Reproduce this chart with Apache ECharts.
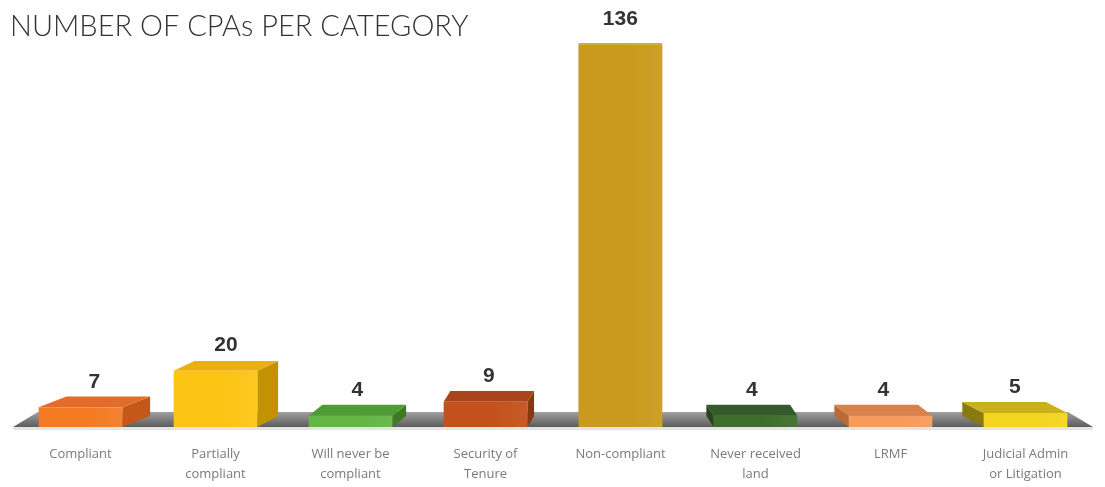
<!DOCTYPE html>
<html style="height: 100%">
<head>
    <meta charset="utf-8">
    <title>Number of CPAs per category</title>
    <script src="https://cdn.jsdelivr.net/npm/echarts@6/dist/echarts.min.js"></script>
</head>
<body style="margin: 0; height: 100%; background: #fff">
    <div id="main" style="width: 1105px; height: 487px"></div>
    <script>
        const categories = ['Compliant', 'Partially\ncompliant', 'Will never be\ncompliant', 'Security of\nTenure',
            'Non-compliant', 'Never received\nland', 'LRMF', 'Judicial Admin\nor Litigation'];
        const counts = [7, 20, 4, 9, 136, 4, 4, 5];
        // front, top, side
        const frontColors = ['#f47b22', '#fcc514', '#63b545', '#c4511b', '#c99a1d', '#3e6d2a', '#f59b5c', '#f3d51e'];
        const topColors = ['#e26c2c', '#e9b20a', '#4f9b36', '#a9451a', '#d6aa3c', '#34592a', '#d9814a', '#c9b11a'];
        const sideColors = ['#c45818', '#c39200', '#3d7a28', '#8b3612', '#a87c10', '#26441a', '#b86a38', '#8a7810'];

        const chart = echarts.init(document.getElementById('main'));

        // perspective helper: back face offset toward the middle / eye level of the chart
        function depthOffset(cx, yt) {
            return [(615 - cx) * 0.052, -Math.max(2, (yt - 30) / 35)];
        }

        function renderFloor(params, api) {
            const cs = params.coordSys;
            const yb = api.coord([0, 0])[1];
            return {
                type: 'group',
                children: [{
                    type: 'polygon',
                    shape: { points: [[cs.x + 25, yb - 15], [cs.x + cs.width - 25, yb - 15], [cs.x + cs.width, yb], [cs.x, yb]] },
                    style: {
                        fill: new echarts.graphic.LinearGradient(0, 0, 0, 1, [
                            { offset: 0, color: '#a0a0a0' },
                            { offset: 1, color: '#5c5c5c' }
                        ])
                    }
                }, {
                    type: 'rect',
                    shape: { x: cs.x, y: yb, width: cs.width, height: 3 },
                    style: { fill: '#e4e4e4' }
                }]
            };
        }

        function renderBar(params, api) {
            const i = api.value(0);
            const val = api.value(1);
            const base = api.coord([i, 0]);
            const top = api.coord([i, val]);
            const w = api.size([1, 0])[0] * 0.62;
            const x0 = base[0] - w / 2, x1 = base[0] + w / 2;
            const yb = base[1], yt = top[1];
            const [dx, dy] = depthOffset(base[0], yt);
            const sx = dx >= 0 ? x1 : x0;
            const children = [{
                type: 'polygon',
                shape: { points: [[sx, yt], [sx + dx, yt + dy], [sx + dx, yb - 11], [sx, yb]] },
                style: { fill: sideColors[i] }
            }, {
                type: 'polygon',
                shape: { points: [[x0, yt], [x0 + dx, yt + dy], [x1 + dx, yt + dy], [x1, yt]] },
                style: { fill: topColors[i] }
            }, {
                type: 'rect',
                shape: { x: x0, y: yt, width: w, height: yb - yt },
                style: {
                    fill: new echarts.graphic.LinearGradient(0, 0, 1, 0, [
                        { offset: 0, color: frontColors[i] },
                        { offset: 0.6, color: frontColors[i] },
                        { offset: 1, color: echarts.color.lift(frontColors[i], 0.06) }
                    ])
                }
            }, {
                type: 'text',
                style: {
                    text: String(val),
                    x: base[0] + dx / 2,
                    y: Math.min(yt + dy - 4, yt - 15),
                    align: 'center',
                    verticalAlign: 'bottom',
                    fill: '#333',
                    font: 'bold 21px "Liberation Sans", sans-serif'
                }
            }];
            return { type: 'group', children: children };
        }

        chart.setOption({
            animation: false,
            title: {
                text: 'NUMBER OF CPAs PER CATEGORY',
                left: 5,
                top: 7,
                textStyle: { fontFamily: 'Lato', fontWeight: 300, fontSize: 29, color: '#333' }
            },
            grid: { left: 13, right: 12, top: 45, bottom: 60 },
            xAxis: {
                type: 'category',
                data: categories,
                axisLine: { show: false },
                axisTick: { show: false },
                axisLabel: {
                    interval: 0,
                    margin: 17,
                    color: '#7a7a7a',
                    fontFamily: 'Open Sans',
                    fontSize: 13,
                    lineHeight: 20
                }
            },
            yAxis: {
                type: 'value',
                min: 0,
                max: 136,
                show: false,
                splitLine: { show: false }
            },
            series: [{
                type: 'custom',
                renderItem: renderFloor,
                data: [[0, 0]],
                silent: true,
                z: 1
            }, {
                type: 'custom',
                renderItem: renderBar,
                data: counts.map((v, i) => [i, v]),
                z: 2
            }]
        });
    </script>
</body>
</html>
